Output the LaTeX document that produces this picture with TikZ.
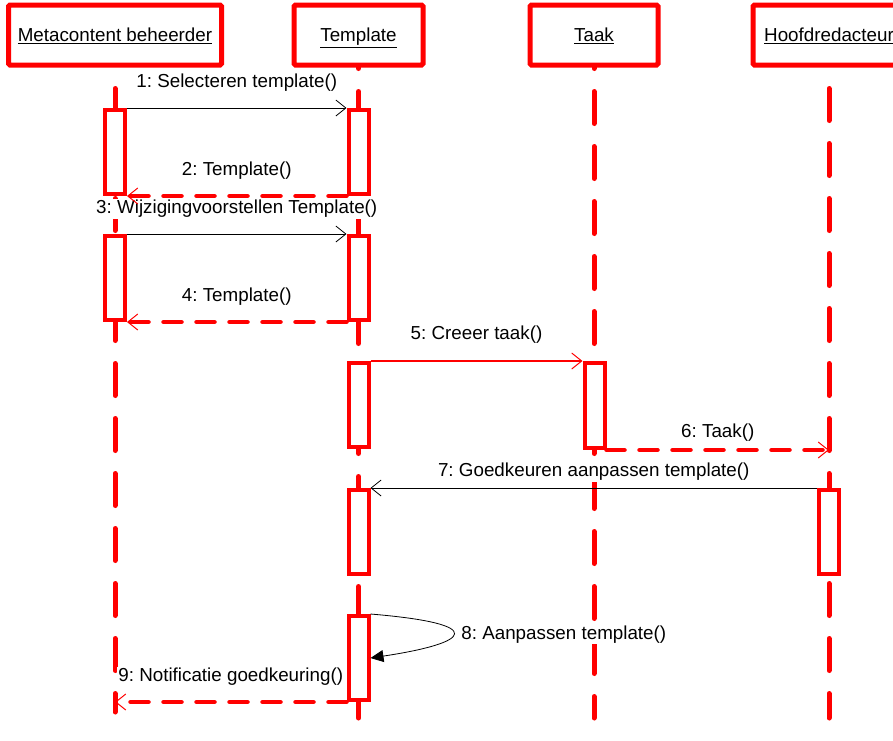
\documentclass[tikz,border=0pt]{standalone}
\usepackage{fontspec}
\setmainfont{Liberation Sans}
\usetikzlibrary{positioning, arrows.meta}
\frenchspacing

\begin{document}
\begin{tikzpicture}[
        x = 1pt, y = -1pt,
        font = \fontsize{18.8}{22}\selectfont,
        head/.style = {draw = red, line width = 5pt, rounded corners = 1.5pt,
          minimum height = 60pt, inner sep = 0pt, text height = 13pt, text depth = 0pt},
        act/.style = {draw = red, fill = white, line width = 4pt,
          minimum width = 20pt, inner sep = 0pt, anchor = north},
        life/.style = {red, line width = 5pt, line cap = round,
          dash pattern = on 32pt off 23pt},
        call/.style = {black, line width = 0.8pt,
          -{Straight Barb[length = 10pt, width = 16pt, line width = 0.8pt]}},
        create/.style = {red, line width = 2pt,
          -{Straight Barb[length = 10pt, width = 16pt, line width = 1pt]}},
        reply/.style = {red, line width = 4.5pt, line cap = round,
          dash pattern = on 18pt off 15pt,
          -{Straight Barb[length = 10pt, width = 16pt, line width = 1pt]}},
        self/.style = {black, line width = 0.8pt,
          -{Triangle[length = 13pt, width = 12pt]}},
        lbl/.style = {yshift = 25pt, inner sep = 1pt, fill = white, text = black}]

      \useasboundingbox (0,0) rectangle (893,740);
      \clip (0,0) rectangle (893,740);

      %heads
      \node[head, minimum width = 213pt] (meta) at (115,35) {\underline{Metacontent beheerder}};
      \node[head, minimum width = 129pt] (tpl) at (358.5,35) {\underline{Template}};
      \node[head, minimum width = 128pt] (taak) at (594,35) {\underline{Taak}};
      \node[head, minimum width = 152pt] (hoofd) at (829,35) {\underline{Hoofdredacteur}};

      %lifeline ends
      \coordinate (metaEnd) at (115,712);
      \coordinate (tplEnd) at (358.5,718);
      \coordinate (taakEnd) at (594,718);
      \coordinate (hoofdEnd) at (829,718);

      %lifelines
      \draw[life, dash phase = 34pt] (meta.south) -- (metaEnd);
      \draw[life, dash phase = 31pt] (tpl.south) -- (tplEnd);
      \draw[life, dash phase = 31pt] (taak.south) -- (taakEnd);
      \draw[life, dash phase = 34pt] (hoofd.south) -- (hoofdEnd);

      %activations
      \node[act, minimum height = 84pt] (metaA1) at (115,108) {};
      \node[act, minimum height = 84pt] (tplA1) at (358.5,108) {};
      \node[act, minimum height = 84pt] (metaA2) at (115,234) {};
      \node[act, minimum height = 84pt] (tplA2) at (358.5,234) {};
      \node[act, minimum height = 84pt] (tplA3) at (358.5,361) {};
      \node[act, minimum height = 85pt] (taakA1) at (594.5,361) {};
      \node[act, minimum height = 84pt] (tplA4) at (358.5,488) {};
      \node[act, minimum height = 84pt] (hoofdA1) at (829,488) {};
      \node[act, minimum height = 84pt] (tplA5) at (358.5,614) {};

      %messages
      \path[call]
      (metaA1.north east) edge node[lbl] {1: Selecteren template()} (tplA1.north west)
      (metaA2.north east) edge node[lbl] {3: Wijzigingvoorstellen Template()} (tplA2.north west)
      (hoofdA1.north west) edge node[lbl, yshift = -9pt] {7: Goedkeuren aanpassen template()} (tplA4.north east)
      ;
      \path[reply]
      (tplA1.south west) edge node[lbl] {2: Template()} (metaA1.south east)
      (tplA2.south west) edge node[lbl] {4: Template()} (metaA2.south east)
      (taakA1.south east) edge node[lbl, yshift = -8pt] {6: Taak()} (taakA1.south -| hoofd.south)
      (tplA5.south west) edge node[lbl] {9: Notificatie goedkeuring()} (tplA5.south -| meta.south)
      ;
      \path[create]
      (tplA3.north east) edge node[lbl, yshift = 1pt] {5: Creeer taak()} (taakA1.north west)
      ;

      % self call
      \draw[self] (tplA5.north east) .. controls +(120,10) and +(100,-15) .. (tplA5.east)
        node[pos = 0.5, anchor = west, xshift = 7pt, inner sep = 1pt, fill = white] (selfLbl) {8: Aanpassen template()};
    \end{tikzpicture}
\end{document}
